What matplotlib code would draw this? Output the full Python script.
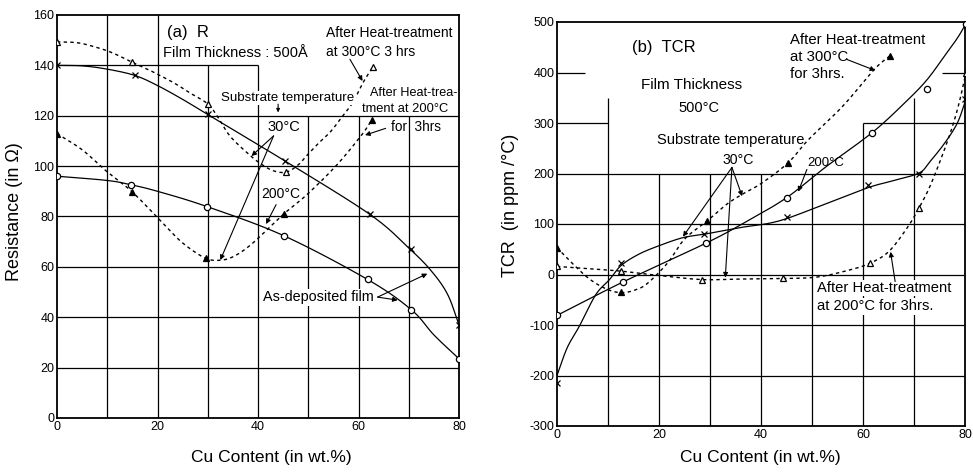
import numpy as np
import matplotlib
matplotlib.use('Agg')
import matplotlib.pyplot as plt

plt.rcParams['font.family'] = ['Liberation Sans', 'DejaVu Sans']
plt.rcParams['axes.unicode_minus'] = False

# ---------------- (a) Resistance, markers ----------------
a_cross_x = [0, 15.5, 30, 45.4, 62.3, 70.4, 80]
a_cross_y = [140, 136, 120.5, 102, 80.8, 67, 37]
a_circ_x = [0, 14.7, 29.9, 45.1, 61.8, 70.5, 80]
a_circ_y = [96, 92.6, 83.9, 72.4, 55, 43, 23.5]
a_tri_x = [0, 15, 30, 45.6, 62.9]            # after heat-treatment 300C
a_tri_y = [149.3, 141.2, 124.7, 97.6, 139.5]
a_trif_x = [0, 15, 29.6, 45.1, 62.6]         # after heat-treatment 200C
a_trif_y = [112.9, 89.7, 63.4, 80.9, 118.2]

# drawn curves
a_cross_line_x = [0, 5, 10, 15.5, 20, 25, 30, 45.4, 62.3, 70, 74.4, 77.7, 80]
a_cross_line_y = [140, 139.8, 138.5, 136, 132, 126.5, 120.5, 102, 80.8, 67.5, 58.6, 49.2, 37]
a_circ_line_x = [0, 10, 14.7, 20, 29.9, 45.1, 61.8, 70.5, 75, 80]
a_circ_line_y = [96, 94.3, 92.6, 90, 83.9, 72.4, 55, 43, 33, 23.5]
a_tri_line_x = [0, 4, 7.6, 11, 15, 19, 23.3, 26.5, 30, 32, 34.4, 38, 40.5, 43, 45.6,
                48, 49.8, 52, 54.4, 56.7, 58.9, 61, 62.9]
a_tri_line_y = [149.3, 149, 147.3, 145, 141.2, 137.5, 133, 129, 124.7, 119.5, 112, 105,
                101, 98.2, 97.6, 100.5, 104.4, 109, 113.6, 119.5, 125.4, 133.5, 139.5]
a_trif_line_x = [0, 5, 9.6, 15, 21, 25, 29.6, 32.8, 35.5, 38.7, 42.6, 45.1, 49.8, 55.7, 60.6, 62.6]
a_trif_line_y = [112.9, 106.5, 98.4, 89.7, 77.5, 69.5, 63.4, 62.7, 64.5, 69, 76.3, 81,
                 88.8, 100.5, 112.3, 118.2]

# ---------------- (b) TCR ----------------
b_circ_x = [0, 12.9, 29.2, 45, 61.8, 72.5, 80.2]
b_circ_y = [-81, -15, 62, 152, 281, 368, 497]
b_cross_x = [0, 12.6, 28.9, 45, 61, 71, 80]
b_cross_y = [-214, 22, 80, 113, 177, 199, 347]
b_trif_x = [0, 12.6, 29.5, 45.3, 65.3]       # after heat-treatment 300C
b_trif_y = [53, -35, 106.6, 221, 433]
b_tri_x = [0, 12.6, 28.4, 44.4, 61.3, 71, 80.2]  # after heat-treatment 200C
b_tri_y = [16, 6.6, -10, -7, 22, 132, 400]

b_circ_line_x = [0, 12.9, 29.2, 37, 45, 52.7, 61.8, 68.2, 72.5, 76, 78.5, 80.2]
b_circ_line_y = [-81, -15, 62, 104, 152, 213, 281, 340, 385, 433, 468, 497]
b_cross_line_x = [0, 2, 4.4, 7.6, 10.3, 12.6, 16, 20, 24.7, 29, 36, 43.5, 52.7, 61, 66,
                  71, 73, 76, 78.5, 80.2]
b_cross_line_y = [-200, -145, -102, -40, -10, 18, 40, 57, 73, 80, 93, 106, 140, 172, 186,
                  201, 222, 260, 300, 347]
b_trif_line_x = [0, 3, 6.5, 10, 12.8, 15.5, 17.8, 21.7, 25, 29.5, 33, 36, 40, 45.3, 49.3,
                 56, 62.3, 65.3]
b_trif_line_y = [53, 22, -10, -30, -36, -30, -17, 23, 70, 106.6, 137, 157, 180, 221, 267,
                 333, 407, 433]
b_tri_line_x = [0, 6, 12.6, 20, 28.4, 36, 44.4, 51, 57, 61.3, 65, 68.5, 71, 73.4, 76.6, 78.6, 80.2]
b_tri_line_y = [16, 11.5, 6.6, -2, -10, -9, -8, -5, 8, 22, 45, 90, 132, 181, 265, 330, 400]


def smooth(x, y, n=14):
    # Catmull-Rom through the traced points, for drawing only
    p = np.column_stack([x, y]).astype(float)
    p = np.vstack([2 * p[0] - p[1], p, 2 * p[-1] - p[-2]])
    t = np.linspace(0, 1, n, endpoint=False)[:, None]
    out = []
    for i in range(1, len(p) - 2):
        p0, p1, p2, p3 = p[i - 1], p[i], p[i + 1], p[i + 2]
        out.append(0.5 * (2 * p1 + (p2 - p0) * t + (2 * p0 - 5 * p1 + 4 * p2 - p3) * t ** 2
                          + (3 * p1 - p0 - 3 * p2 + p3) * t ** 3))
    out.append(p[-2][None])
    out = np.vstack(out)
    return out[:, 0], out[:, 1]


solid = dict(color='black', lw=0.9, zorder=3)
dashed = dict(color='black', lw=1.0, ls=(0, (2.4, 2.4)), zorder=3)
mk = dict(ls='none', color='black', zorder=4)
arrow = dict(arrowstyle='-|>', color='black', lw=0.8, mutation_scale=7, shrinkA=0, shrinkB=0)
wbox = dict(facecolor='white', edgecolor='none', pad=1)

fig = plt.figure(figsize=(9.73, 4.75), dpi=100)
ax1 = fig.add_axes([57 / 973, 1 - 418 / 475, 402 / 973, 403 / 475])
ax2 = fig.add_axes([557 / 973, 1 - 426 / 475, 408 / 973, 404 / 475])

for ax in (ax1, ax2):
    for s in ax.spines.values():
        s.set_linewidth(1.3)
    ax.tick_params(length=0, pad=2, labelsize=9)
    ax.set_xlim(0, 80)
    ax.set_xticks([0, 20, 40, 60, 80])

# ---------------- panel (a) ----------------
ax1.set_ylim(0, 160)
ax1.set_yticks(np.arange(0, 161, 20))
g = dict(color='black', lw=0.9, zorder=1)
ax1.hlines([20, 40, 60, 80, 100, 120], 0, 80, **g)
ax1.hlines(140, 0, 40, **g)
ax1.vlines([10, 20], 0, 160, **g)
ax1.vlines([30, 40], 0, 140, **g)
ax1.vlines([50, 60, 70], 0, 120, **g)

ax1.plot(*smooth(a_cross_line_x, a_cross_line_y), **solid)
ax1.plot(*smooth(a_circ_line_x, a_circ_line_y), **solid)
ax1.plot(*smooth(a_tri_line_x, a_tri_line_y), **dashed)
ax1.plot(*smooth(a_trif_line_x, a_trif_line_y), **dashed)
ax1.plot(a_cross_x, a_cross_y, marker='x', ms=4, mew=0.9, **mk)
ax1.plot(a_circ_x, a_circ_y, marker='o', ms=4.5, mew=0.9, mfc='white', **mk)
ax1.plot(a_tri_x, a_tri_y, marker='^', ms=4.2, mew=0.9, mfc='white', **mk)
ax1.plot(a_trif_x, a_trif_y, marker='^', ms=4.5, mew=0.9, **mk)

ax1.set_ylabel('Resistance (in Ω)', fontsize=13)
ax1.yaxis.set_label_coords(-0.085, 0.511)
ax1.set_xlabel('Cu Content (in wt.%)', fontsize=12.5, va='center')
ax1.xaxis.set_label_coords(0.532, -0.099)

ax1.text(21.9, 153.2, '(a)  R', fontsize=12, va='center')
ax1.text(21, 144.8, 'Film Thickness : 500Å', fontsize=10.5, va='center')
ax1.text(53.5, 152.7, 'After Heat-treatment', fontsize=10, va='center')
ax1.text(53.5, 145.3, 'at 300°C 3 hrs', fontsize=10, va='center')
ax1.text(32.7, 127, 'Substrate temperature', fontsize=9.6, va='center', bbox=wbox, zorder=5)
ax1.text(41.8, 115.6, '30°C', fontsize=10.5, va='center')
ax1.text(62.2, 128.9, 'After Heat-trea-', fontsize=9.1, va='center')
ax1.text(60.6, 122.7, 'tment at 200°C', fontsize=9.3, va='center')
ax1.text(66.5, 115.7, 'for  3hrs', fontsize=9.8, va='center')
ax1.text(40.6, 88.8, '200°C', fontsize=10, va='center')
ax1.text(41, 48, 'As-deposited film', fontsize=10.4, va='center', bbox=wbox, zorder=5)

ax1.annotate('', xy=(44, 121.3), xytext=(44, 124.6), arrowprops=dict(arrow, mutation_scale=5), zorder=6)
ax1.annotate('', xy=(38.7, 104), xytext=(43.1, 112), arrowprops=arrow)
ax1.annotate('', xy=(32.5, 62.7), xytext=(43.1, 112), arrowprops=arrow)
ax1.annotate('', xy=(41.6, 77), xytext=(43.6, 84.7), arrowprops=arrow)
ax1.annotate('', xy=(60.8, 133.8), xytext=(58.3, 142.4), arrowprops=arrow)
ax1.annotate('', xy=(61.3, 112.3), xytext=(65.4, 115), arrowprops=arrow)
ax1.annotate('', xy=(73.7, 57.3), xytext=(63.8, 48), arrowprops=arrow)
ax1.annotate('', xy=(67.8, 46.8), xytext=(63.8, 48), arrowprops=arrow)

# ---------------- panel (b) ----------------
ax2.set_ylim(-300, 500)
ax2.set_yticks(np.arange(-300, 501, 100))
ax2.hlines([-200, -100, 0, 100, 200], 0, 80, **g)
ax2.hlines(300, 0, 10, **g)
ax2.hlines(300, 60, 80, **g)
ax2.hlines(400, 0, 5.5, **g)
ax2.hlines(400, 75.5, 80, **g)
ax2.vlines([10, 70], -300, 350, **g)
ax2.vlines([20, 30, 40, 50], -300, 200, **g)
ax2.vlines(60, -300, 300, **g)

ax2.plot(*smooth(b_circ_line_x, b_circ_line_y), **solid)
ax2.plot(*smooth(b_cross_line_x, b_cross_line_y), **solid)
ax2.plot(*smooth(b_trif_line_x, b_trif_line_y), **dashed)
ax2.plot(*smooth(b_tri_line_x, b_tri_line_y), **dashed)
ax2.plot(b_cross_x, b_cross_y, marker='x', ms=4, mew=0.9, **mk)
ax2.plot(b_circ_x, b_circ_y, marker='o', ms=4.5, mew=0.9, mfc='white', **mk)
ax2.plot(b_tri_x, b_tri_y, marker='^', ms=4.2, mew=0.9, mfc='white', **mk)
ax2.plot(b_trif_x, b_trif_y, marker='^', ms=4.5, mew=0.9, **mk)

ax2.set_ylabel('TCR  (in ppm /°C)', fontsize=13)
ax2.yaxis.set_label_coords(-0.093, 0.547)
ax2.set_xlabel('Cu Content (in wt.%)', fontsize=12.5, va='center')
ax2.xaxis.set_label_coords(0.4975, -0.079)

ax2.text(14.7, 449, '(b)  TCR', fontsize=12, va='center')
ax2.text(16.5, 375, 'Film Thickness', fontsize=11, va='center')
ax2.text(23.9, 330, '500°C', fontsize=10.5, va='center')
ax2.text(19.6, 267, 'Substrate temperature', fontsize=10.6, va='center')
ax2.text(32.4, 227, '30°C', fontsize=10.2, va='center')
ax2.text(49, 221, '200°C', fontsize=9.5, va='center')
ax2.text(45.7, 464, 'After Heat-treatment', fontsize=10.7, va='center')
ax2.text(45.7, 431, 'at 300°C', fontsize=10.7, va='center')
ax2.text(45.7, 398, 'for 3hrs.', fontsize=10.7, va='center')
ax2.text(51, -27, 'After Heat-treatment', fontsize=10.6, va='center', bbox=wbox, zorder=5)
ax2.text(51, -63, 'at 200°C for 3hrs.', fontsize=10.6, va='center', bbox=wbox, zorder=5)

ax2.annotate('', xy=(24.7, 75), xytext=(34.3, 212), arrowprops=arrow)
ax2.annotate('', xy=(36.3, 155), xytext=(34.3, 212), arrowprops=arrow)
ax2.annotate('', xy=(33, -6), xytext=(34.3, 212), arrowprops=arrow)
ax2.annotate('', xy=(47.3, 164), xytext=(49, 208), arrowprops=arrow)
ax2.annotate('', xy=(62.4, 404), xytext=(56.8, 426), arrowprops=arrow)
ax2.annotate('', xy=(65.4, 45), xytext=(66.3, -14), arrowprops=arrow, zorder=6)

fig.savefig('out.png', dpi=100)
